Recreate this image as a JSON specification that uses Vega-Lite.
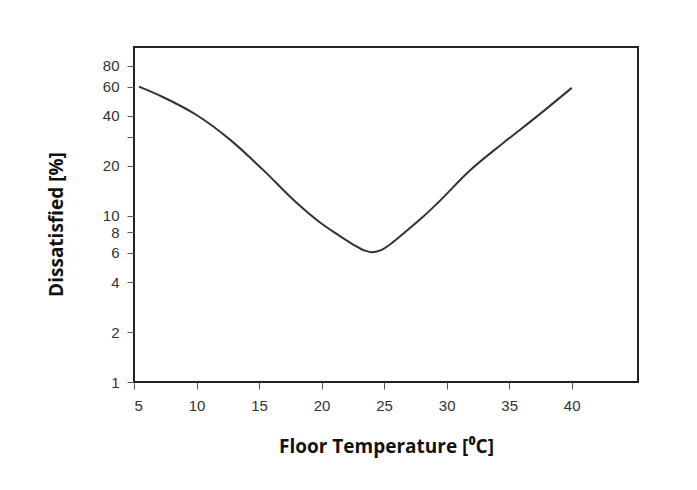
{
  "$schema": "https://vega.github.io/schema/vega-lite/v6.json",
  "width": 504,
  "height": 335,
  "autosize": "none",
  "padding": {"left": 134, "top": 47, "right": 59, "bottom": 108},
  "background": "white",
  "data": {
    "values": [
      {"t": 5.4, "d": 60},
      {"t": 7.3, "d": 52},
      {"t": 10.0, "d": 40.5},
      {"t": 12.7, "d": 28.7},
      {"t": 15.3, "d": 19},
      {"t": 18.0, "d": 12},
      {"t": 19.9, "d": 9.1},
      {"t": 21.2, "d": 7.8},
      {"t": 22.5, "d": 6.75},
      {"t": 23.4, "d": 6.2},
      {"t": 24.0, "d": 6.05},
      {"t": 24.7, "d": 6.2},
      {"t": 25.6, "d": 6.85},
      {"t": 26.6, "d": 7.9},
      {"t": 28.0, "d": 9.7},
      {"t": 29.2, "d": 11.8},
      {"t": 31.9, "d": 18.9},
      {"t": 34.5, "d": 27.4},
      {"t": 37.2, "d": 39.6},
      {"t": 40.0, "d": 59}
    ]
  },
  "mark": {"type": "line", "interpolate": "monotone", "color": "#333333", "strokeWidth": 2},
  "encoding": {
    "x": {
      "field": "t",
      "type": "quantitative",
      "scale": {"domain": [5, 45.3], "nice": false, "zero": false},
      "axis": {
        "title": "Floor Temperature [⁰C]",
        "values": [5, 10, 15, 20, 25, 30, 35, 40],
        "grid": false,
        "domain": false,
        "tickSize": 7,
        "tickColor": "#555555",
        "labelPadding": 9,
        "labelFont": "Liberation Sans",
        "labelFontSize": 15,
        "labelColor": "#333333",
        "titleFont": "Open Sans",
        "titleFontWeight": "bold",
        "titleFontSize": 19,
        "titleColor": "#111111",
        "titlePadding": 24
      }
    },
    "y": {
      "field": "d",
      "type": "quantitative",
      "scale": {"type": "log", "domain": [1, 104], "nice": false},
      "axis": {
        "title": "Dissatisfied [%]",
        "values": [1, 2, 4, 6, 8, 10, 20, 30, 40, 60, 80],
        "labelExpr": "datum.value == 30 ? '' : datum.label",
        "format": "d",
        "labelOverlap": false,
        "grid": false,
        "domain": false,
        "tickSize": 7,
        "tickColor": "#555555",
        "labelPadding": 8,
        "labelFont": "Liberation Sans",
        "labelFontSize": 15,
        "labelColor": "#333333",
        "titleFont": "Open Sans",
        "titleFontWeight": "bold",
        "titleFontSize": 19,
        "titleColor": "#111111",
        "titlePadding": 36,
        "titleY": 177
      }
    }
  },
  "config": {
    "view": {"stroke": "#222222", "strokeWidth": 2}
  }
}
